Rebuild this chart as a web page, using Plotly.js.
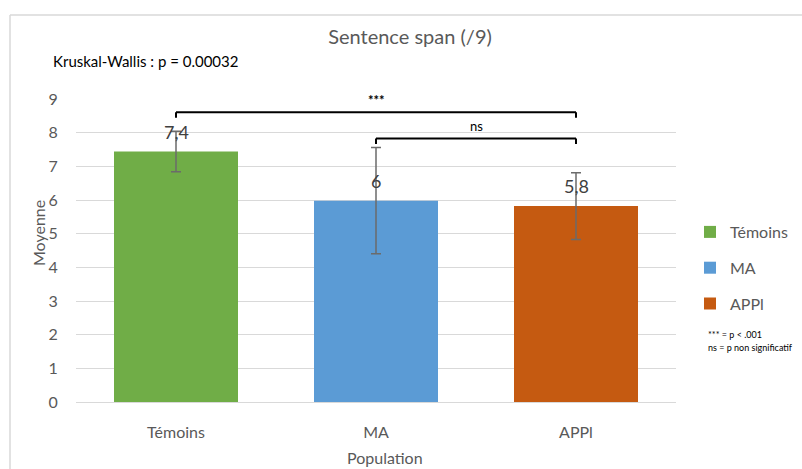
<!DOCTYPE html>
<html>
<head>
<meta charset="utf-8">
<script src="https://cdn.plot.ly/plotly-3.0.1.min.js"></script>
<style>html,body{margin:0;padding:0;background:#fff;}#chart{width:802px;height:469px;}</style>
</head>
<body>
<div id="chart"></div>
<script>
// ---- data ----
const categories = ["Témoins", "MA", "APPl"];
const means = [7.44, 5.98, 5.82];
const errors = [0.6, 1.58, 0.99];
const valueLabels = ["7,4", "6", "5,8"];
const colors = ["#70ad47", "#5b9bd5", "#c55a11"];
const yTicks = [0, 1, 2, 3, 4, 5, 6, 7, 8, 9];
// comparisons: [from, to, label, bracket level]
const compFrom = ["Témoins", "MA"];
const compTo = ["APPl", "APPl"];
const compLabel = ["<b>***</b>", "ns"];
const compLevel = [8.61, 7.83];

const FONT = "Lato, 'Open Sans', sans-serif";
const GREY = "#595959";

const traces = categories.map((c, i) => ({
  type: "bar",
  name: c,
  x: [c],
  y: [means[i]],
  width: 0.62,
  marker: {color: colors[i]},
  legendgroup: c,
  error_y: {type: "data", array: [errors[i]], visible: true, color: "#6b6b6b", thickness: 1.5, width: 5},
  hoverinfo: "skip"
}));

const annotations = [];
const shapes = [];

// value labels
categories.forEach((c, i) => {
  annotations.push({x: c, y: means[i], xref: "x", yref: "y", text: valueLabels[i], showarrow: false,
    yshift: 20, yanchor: "middle", font: {family: FONT, size: 18, color: "#404040"}});
});

// brackets
compFrom.forEach((f, k) => {
  const a = categories.indexOf(f), b = categories.indexOf(compTo[k]);
  const top = compLevel[k], drop = 0.17;
  const ln = {color: "#000", width: 2};
  shapes.push({type: "line", xref: "x", yref: "y", x0: a, x1: b, y0: top, y1: top, line: ln});
  shapes.push({type: "line", xref: "x", yref: "y", x0: a, x1: a, y0: top - drop, y1: top, line: ln});
  shapes.push({type: "line", xref: "x", yref: "y", x0: b, x1: b, y0: top - drop, y1: top, line: ln});
  annotations.push({x: (a + b) / 2, y: top, xref: "x", yref: "y", text: compLabel[k], showarrow: false,
    yanchor: "bottom", yshift: 2, font: {family: FONT, size: 13, color: "#000"}});
});

// frame lines (spreadsheet border)
shapes.push({type: "line", xref: "paper", yref: "paper", x0: (10 - 76) / 600, x1: (802 - 76) / 600,
  y0: (402 - 15) / 303, y1: (402 - 15) / 303, line: {color: "#d9d9d9", width: 1.5}});
shapes.push({type: "line", xref: "paper", yref: "paper", x0: (10 - 76) / 600, x1: (10 - 76) / 600,
  y0: (402 - 15) / 303, y1: (402 - 469) / 303, line: {color: "#d9d9d9", width: 1.5}});

// texts
annotations.push({xref: "paper", yref: "paper", x: (51 - 76) / 600, y: (402 - 61) / 303, xanchor: "left", yanchor: "middle",
  text: "Kruskal-Wallis : p = 0.00032", showarrow: false, font: {family: FONT, size: 15, color: "#000"}});
annotations.push({xref: "paper", yref: "paper", x: (38 - 76) / 600, y: (402 - 233) / 303, xanchor: "center", yanchor: "middle",
  text: "Moyenne", textangle: -90, showarrow: false, font: {family: FONT, size: 16, color: GREY}});
annotations.push({xref: "paper", yref: "paper", x: (385 - 76) / 600, y: (402 - 457) / 303, xanchor: "center", yanchor: "middle",
  text: "Population", showarrow: false, font: {family: FONT, size: 16, color: GREY}});
annotations.push({xref: "paper", yref: "paper", x: (706 - 76) / 600, y: (402 - 334) / 303, xanchor: "left", yanchor: "middle",
  text: "*** = p < .001", showarrow: false, font: {family: FONT, size: 9, color: "#000"}});
annotations.push({xref: "paper", yref: "paper", x: (706 - 76) / 600, y: (402 - 347) / 303, xanchor: "left", yanchor: "middle",
  text: "ns = p non significatif", showarrow: false, font: {family: FONT, size: 9, color: "#000"}});

const layout = {
  width: 802, height: 469,
  margin: {l: 76, r: 126, t: 99, b: 67, pad: 0, autoexpand: false},
  paper_bgcolor: "#fff", plot_bgcolor: "#fff",
  barmode: "overlay",
  title: {text: "Sentence span (/9)", xref: "container", x: 410 / 802, y: 1 - 37 / 469, xanchor: "center", yanchor: "middle",
    font: {family: FONT, size: 20, color: GREY}},
  xaxis: {type: "category", categoryorder: "array", categoryarray: categories, range: [-0.5, 2.5],
    showgrid: false, zeroline: false, showline: true, linecolor: "#d9d9d9", linewidth: 1,
    ticks: "outside", ticklen: 16, tickcolor: "rgba(0,0,0,0)",
    tickfont: {family: FONT, size: 16, color: GREY}, fixedrange: true, automargin: false},
  yaxis: {range: [0, 9], tickvals: yTicks, ticktext: yTicks.map(String), showgrid: true, gridcolor: "#d9d9d9", gridwidth: 1,
    zeroline: false, showline: false, ticks: "outside", ticklen: 14, tickcolor: "rgba(0,0,0,0)",
    tickfont: {family: FONT, size: 16, color: GREY}, fixedrange: true, automargin: false},
  legend: {x: (690 - 76) / 600, xanchor: "left", y: (402 - 215) / 303, yanchor: "top",
    font: {family: FONT, size: 16, color: GREY}, tracegroupgap: 12, itemwidth: 30, bgcolor: "rgba(0,0,0,0)"},
  showlegend: true,
  annotations: annotations,
  shapes: shapes
};

Plotly.newPlot("chart", traces, layout, {displayModeBar: false, staticPlot: true});
</script>
</body>
</html>
